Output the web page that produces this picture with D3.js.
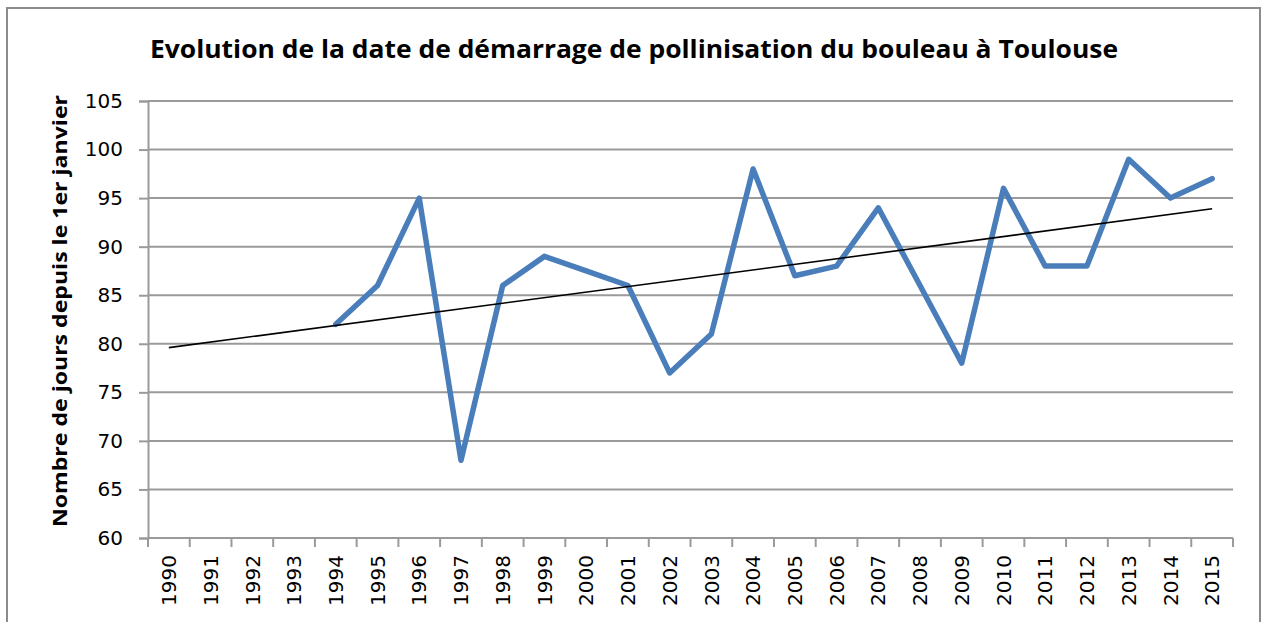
<!DOCTYPE html>
<html>
<head>
<meta charset="utf-8">
<script src="https://cdn.jsdelivr.net/npm/d3@7"></script>
<style>
  body { margin: 0; background: #fff; }
</style>
</head>
<body>
<div id="chart"></div>
<script>
var width = 1264;
var height = 622;

// data
var years = ["1990", "1991", "1992", "1993", "1994", "1995", "1996", "1997", "1998",
    "1999", "2000", "2001", "2002", "2003", "2004", "2005", "2006", "2007", "2008",
    "2009", "2010", "2011", "2012", "2013", "2014", "2015"];
var days = [null, null, null, null, 82, 86, 95, 68, 86,
    89, 87.5, 86, 77, 81, 98, 87, 88, 94, 86,
    78, 96, 88, 88, 99, 95, 97];
var trendYears = ["1990", "2015"];
var trendValues = [79.6, 93.9];
var yTicks = [60, 65, 70, 75, 80, 85, 90, 95, 100, 105];

var plotLeft = 148, plotRight = 1233, plotTop = 101, plotBottom = 538;

var svg = d3.select("#chart").append("svg")
    .attr("width", width)
    .attr("height", height);

// outer frame
svg.append("rect")
    .attr("x", 7)
    .attr("y", 8)
    .attr("width", 1253)
    .attr("height", 640)
    .attr("fill", "none")
    .attr("stroke", "#8c8c8c")
    .attr("stroke-width", 2);

var x = d3.scaleBand()
    .domain(years)
    .range([plotLeft, plotRight])
    .padding(0);

var y = d3.scaleLinear()
    .domain([60, 105])
    .range([plotBottom, plotTop]);

// horizontal grid
svg.append("g")
    .selectAll("line")
    .data(yTicks.slice(1))
    .enter()
    .append("line")
    .attr("x1", plotLeft)
    .attr("x2", plotRight)
    .attr("y1", function(d) { return y(d); })
    .attr("y2", function(d) { return y(d); })
    .attr("stroke", "#9a9a9a")
    .attr("stroke-width", 2);

// y axis
var yAxis = svg.append("g")
    .attr("transform", "translate(" + plotLeft + ",0)")
    .call(d3.axisLeft(y).tickValues(yTicks).tickSize(9).tickPadding(16));

yAxis.selectAll("line").attr("stroke", "#9a9a9a").attr("stroke-width", 2);
yAxis.select(".domain").attr("stroke", "#9a9a9a").attr("stroke-width", 2);
yAxis.selectAll("text")
    .attr("font-family", "DejaVu Sans")
    .attr("font-size", "20px")
    .attr("fill", "#000");

// x axis: labels at centers, ticks at category boundaries
var xAxis = svg.append("g")
    .attr("transform", "translate(0," + plotBottom + ")")
    .call(d3.axisBottom(x).tickSize(0).tickPadding(0));

xAxis.select(".domain").remove();
xAxis.selectAll("text")
    .attr("font-family", "DejaVu Sans")
    .attr("font-size", "20px")
    .attr("fill", "#000")
    .attr("text-anchor", "end")
    .attr("transform", "translate(0,17) rotate(-90)")
    .attr("x", 0)
    .attr("y", 0)
    .attr("dy", "0.36em");

var bounds = years.map(function(d) { return x(d); }).concat([plotRight]);

svg.append("line")
    .attr("x1", plotLeft)
    .attr("x2", plotRight)
    .attr("y1", plotBottom)
    .attr("y2", plotBottom)
    .attr("stroke", "#9a9a9a")
    .attr("stroke-width", 2);

svg.append("g")
    .selectAll("line")
    .data(bounds)
    .enter()
    .append("line")
    .attr("x1", function(d) { return d; })
    .attr("x2", function(d) { return d; })
    .attr("y1", plotBottom)
    .attr("y2", plotBottom + 9)
    .attr("stroke", "#9a9a9a")
    .attr("stroke-width", 2);

// data line
var line = d3.line()
    .defined(function(d) { return d.v !== null; })
    .x(function(d) { return x(d.year) + x.bandwidth() / 2; })
    .y(function(d) { return y(d.v); });

var series = years.map(function(d, i) { return { year: d, v: days[i] }; });

svg.append("path")
    .datum(series)
    .attr("d", line)
    .attr("fill", "none")
    .attr("stroke", "#4a7ebb")
    .attr("stroke-width", 5.5)
    .attr("stroke-linejoin", "round")
    .attr("stroke-linecap", "round");

// linear trend
var trend = trendYears.map(function(d, i) { return { year: d, v: trendValues[i] }; });

svg.append("path")
    .datum(trend)
    .attr("d", line)
    .attr("fill", "none")
    .attr("stroke", "#000")
    .attr("stroke-width", 1.6);

// title
svg.append("text")
    .attr("x", 634)
    .attr("y", 58)
    .attr("text-anchor", "middle")
    .attr("font-family", "Open Sans")
    .attr("font-weight", "bold")
    .attr("font-size", "25px")
    .attr("textLength", 968)
    .attr("lengthAdjust", "spacingAndGlyphs")
    .text("Evolution de la date de démarrage de pollinisation du bouleau à Toulouse");

// y axis title
svg.append("text")
    .attr("transform", "translate(67,311) rotate(-90)")
    .attr("text-anchor", "middle")
    .attr("font-family", "Open Sans")
    .attr("font-weight", "bold")
    .attr("font-size", "20px")
    .attr("textLength", 432)
    .attr("lengthAdjust", "spacingAndGlyphs")
    .text("Nombre de jours depuis le 1er janvier");
</script>
</body>
</html>
